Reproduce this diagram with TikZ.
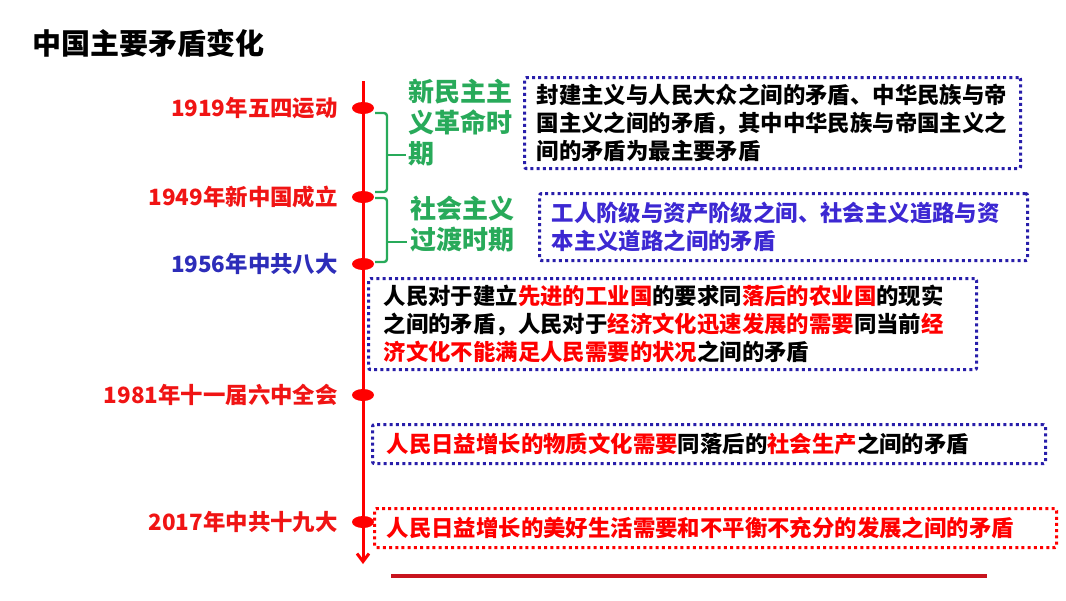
\documentclass[tikz,border=0pt]{standalone}
\usepackage{fontspec}
\setmainfont{Noto Sans CJK SC}
\usetikzlibrary{positioning,shapes.geometric,arrows.meta}

\definecolor{tlred}{RGB}{255,0,0}
\definecolor{lblred}{RGB}{240,20,20}
\definecolor{lblblue}{RGB}{45,45,185}
\definecolor{pergreen}{RGB}{40,170,90}
\definecolor{boxblue}{RGB}{40,30,170}
\definecolor{txtblue}{RGB}{60,40,210}
\definecolor{boxred}{RGB}{230,30,30}
\definecolor{ulred}{RGB}{200,20,30}

\tikzset{
  mbox/.style={draw=boxblue, line width=3.2pt, dash pattern=on 3pt off 3.2pt,
               rounded corners=2pt, anchor=north west, align=left,
               inner xsep=12pt, inner ysep=0pt,
               font=\bfseries\fontsize{22.4}{28}\selectfont},
  tldot/.style={ellipse, fill=tlred, inner sep=0pt,
                minimum width=22pt, minimum height=12pt},
  yrlbl/.style={inner sep=0pt, font=\bfseries\fontsize{22.4}{26}\selectfont},
  perlbl/.style={pergreen, anchor=west, inner sep=0pt, align=left,
                 font=\bfseries\fontsize{26}{31}\selectfont},
  brk/.style={pergreen, line width=2.4pt, rounded corners=3pt},
}

\begin{document}
\begin{tikzpicture}[x=1pt,y=-1pt]

  \useasboundingbox (0,0) rectangle (1066,600);

  \node[anchor=west, inner sep=0pt, font=\bfseries\fontsize{29}{32}\selectfont]
       (title) at (32,43) {中国主要矛盾变化};

  \begin{scope}   % time axis
    \def\tx{363};
    \coordinate (tltop) at (\tx,81);
    \coordinate (tlend) at (\tx,564);
    \draw[tlred, line width=3pt, -{Straight Barb[length=8pt,width=12pt]}]
         (tltop)--(tlend);

    \node[tldot] (d1) at (\tx,108) {};
    \node[tldot] (d2) at (\tx,197) {};
    \node[tldot] (d3) at (\tx,264) {};
    \node[tldot] (d4) at (\tx,395) {};
    \node[tldot] (d5) at (\tx,522) {};

    \node[yrlbl, lblred,  left=14pt of d1] (l1) {1919年五四运动};
    \node[yrlbl, lblred,  left=14pt of d2] (l2) {1949年新中国成立};
    \node[yrlbl, lblblue, left=14pt of d3] (l3) {1956年中共八大};
    \node[yrlbl, lblred,  left=14pt of d4] (l4) {1981年十一届六中全会};
    \node[yrlbl, lblred,  left=14pt of d5] (l5) {2017年中共十九大};
  \end{scope}

  \begin{scope}   % periods and brackets
    \node[perlbl] (per1) at (408,122.5) {新民主主\\义革命时\\期};
    \node[perlbl] (per2) at (410,224) {社会主义\\过渡时期};

    \coordinate (b1a) at (375,113);
    \coordinate (b1m) at (387,155);
    \coordinate (b1b) at (375,192);
    \coordinate (b1t) at (406,155);
    \draw[brk] (b1a) -| (b1m) |- (b1b);
    \draw[brk] (b1m) -- (b1t);

    \coordinate (b2a) at (375,198);
    \coordinate (b2m) at (387,242);
    \coordinate (b2b) at (375,262);
    \coordinate (b2t) at (407,242);
    \draw[brk] (b2a) -| (b2m) |- (b2b);
    \draw[brk] (b2m) -- (b2t);
  \end{scope}

  \begin{scope}   % contradictions
    \node[mbox, text width=472pt, minimum height=91pt] (c1) at (523,76)
         {封建主义与人民大众之间的矛盾、中华民族与帝\\
          国主义之间的矛盾，其中中华民族与帝国主义之\\
          间的矛盾为最主要矛盾};
    \node[mbox, txtblue, draw=boxblue, text width=464pt, minimum height=67pt]
         (c2) at (538,192)
         {工人阶级与资产阶级之间、社会主义道路与资\\
          本主义道路之间的矛盾};
    \node[mbox, inner xsep=15pt, text width=578pt, minimum height=91pt]
         (c3) at (367,277)
         {人民对于建立\textcolor{tlred}{先进的工业国}的要求同\textcolor{tlred}{落后的农业国}的现实\\
          之间的矛盾，人民对于\textcolor{tlred}{经济文化迅速发展的需要}同当前\textcolor{tlred}{经}\\
          \textcolor{tlred}{济文化不能满足人民需要的状况}之间的矛盾};
    \node[mbox, inner xsep=14pt, text width=645pt, minimum height=39pt]
         (c4) at (371,423)
         {\textcolor{tlred}{人民日益增长的物质文化需要}同落后的\textcolor{tlred}{社会生产}之间的矛盾};
    \node[mbox, draw=boxred, tlred, text width=658pt, minimum height=39pt]
         (c5) at (373,507)
         {人民日益增长的美好生活需要和不平衡不充分的发展之间的矛盾};
  \end{scope}

  \coordinate (ul1) at (391,576);
  \coordinate (ul2) at (987,576);
  \draw[ulred, line width=4pt] (ul1)--(ul2);

\end{tikzpicture}
\end{document}
